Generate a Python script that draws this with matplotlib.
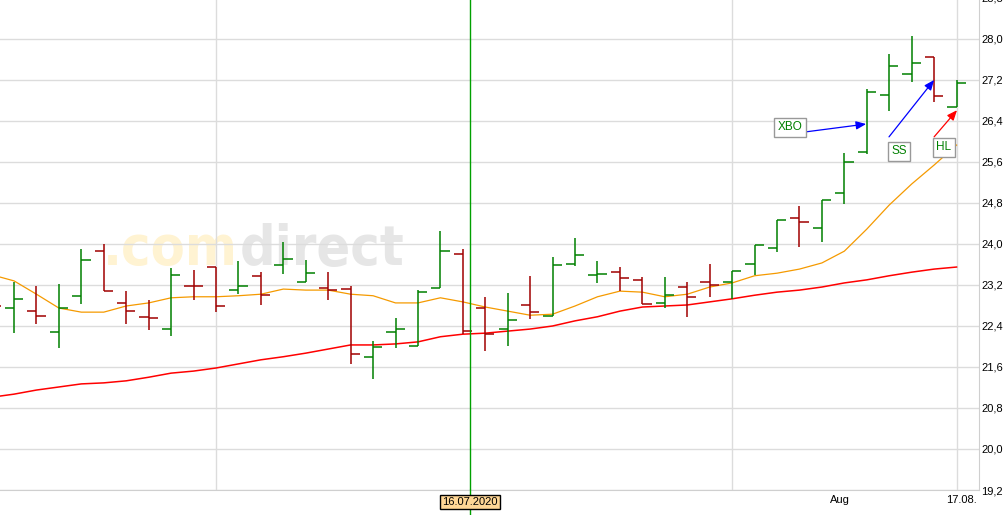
import numpy as np
import pandas as pd
import matplotlib.pyplot as plt
import matplotlib.transforms as mtransforms

# %%
# daily bars, 17.06.2020 - 17.08.2020 (trading days)
dates = pd.bdate_range("2020-06-17", "2020-08-17")

opens = [22.95, 22.75, 22.69, 22.28, 22.99, 23.86, 22.85, 22.58, 22.34, 23.18,
         23.55, 23.10, 23.38, 23.59, 23.26, 23.14, 23.12, 21.80, 22.28, 22.01,
         23.14, 23.80, 22.75, 22.34, 22.81, 22.60, 23.61, 23.40, 23.45, 23.30,
         22.85, 23.16, 23.26, 23.26, 23.61, 23.92, 24.51, 24.31, 24.99, 25.80,
         26.91, 27.32, 27.65, 26.67]
highs = [23.05, 23.26, 23.18, 23.22, 23.90, 24.00, 23.08, 22.91, 23.53, 23.49,
         23.55, 23.67, 23.45, 24.04, 23.69, 23.45, 23.18, 22.11, 22.56, 23.10,
         24.25, 23.90, 22.97, 23.04, 23.38, 23.75, 24.12, 23.67, 23.55, 23.36,
         23.36, 23.26, 23.61, 23.47, 23.98, 24.47, 24.74, 24.86, 25.78, 27.02,
         27.71, 28.06, 27.65, 27.20]
lows = [22.55, 22.26, 22.44, 21.97, 22.83, 23.08, 22.44, 22.32, 22.20, 22.91,
        22.67, 23.02, 22.81, 23.41, 23.26, 22.91, 21.66, 21.37, 21.97, 22.01,
        23.14, 22.24, 21.91, 22.01, 22.54, 22.60, 23.57, 23.24, 23.08, 22.83,
        22.75, 22.58, 22.97, 22.93, 23.40, 23.84, 23.94, 24.04, 24.78, 25.76,
        26.60, 27.16, 26.77, 26.67]
closes = [22.79, 22.93, 22.60, 22.75, 23.69, 23.08, 22.69, 22.56, 23.40, 23.18,
          22.79, 23.18, 23.00, 23.71, 23.43, 23.10, 21.85, 21.99, 22.34, 23.06,
          23.86, 22.30, 22.24, 22.52, 22.67, 23.59, 23.79, 23.41, 23.34, 22.83,
          23.00, 22.97, 23.20, 23.47, 23.98, 24.47, 24.43, 24.86, 25.60, 26.97,
          27.47, 27.53, 26.89, 27.14]

# moving averages (orange = short, red = long)
ma_short = [23.40, 23.28, 23.02, 22.75, 22.67, 22.67, 22.79, 22.85, 22.95, 22.97,
            22.97, 22.99, 23.02, 23.12, 23.10, 23.10, 23.02, 22.99, 22.85, 22.85,
            22.95, 22.87, 22.77, 22.69, 22.61, 22.63, 22.79, 22.97, 23.08, 23.06,
            22.97, 23.02, 23.16, 23.24, 23.38, 23.43, 23.51, 23.63, 23.86, 24.29,
            24.76, 25.17, 25.54, 25.93]
ma_long = [21.01, 21.07, 21.15, 21.21, 21.27, 21.29, 21.33, 21.40, 21.48, 21.52,
           21.58, 21.66, 21.74, 21.80, 21.87, 21.95, 22.03, 22.03, 22.05, 22.09,
           22.19, 22.24, 22.26, 22.30, 22.34, 22.40, 22.50, 22.58, 22.69, 22.77,
           22.79, 22.81, 22.87, 22.93, 23.00, 23.06, 23.10, 23.16, 23.24, 23.30,
           23.38, 23.45, 23.51, 23.55]

y_ticks = [19.2, 20.0, 20.8, 21.6, 22.4, 23.2, 24.0, 24.8, 25.6, 26.4, 27.2, 28.0, 28.8]
y_labels = ["19,2", "20,0", "20,8", "21,6", "22,4", "23,2", "24,0", "24,8",
            "25,6", "26,4", "27,2", "28,0", "28,8"]

# signal labels: text, box position, arrow start, arrow end, colour
signals = [
    ("XBO", (35.58, 26.28), (35.98, 26.17), (38.97, 26.34), "blue"),
    ("SS", (40.44, 25.81), (39.99, 26.09), (42.00, 27.20), "blue"),
    ("HL", (42.44, 25.89), (42.00, 26.09), (43.02, 26.61), "red"),
]

# %%
plt.rcParams["font.family"] = ["Liberation Sans", "DejaVu Sans"]

fig = plt.figure(figsize=(10.06, 5.15), dpi=100)
ax = fig.add_axes([0, 25 / 515, 979 / 1006, 490 / 515])

x = np.arange(len(dates))
tick = 0.41
GREEN = "#008000"
DRED = "#a00000"

grid_c = "#dcdcdc"
for t in y_ticks:
    ax.axhline(t, color=grid_c, lw=1, zorder=0.5)
for i in [10, 33, 43]:
    ax.axvline(i, color=grid_c, lw=1, zorder=0.5)

# watermark, behind the grid
ax.text(238 / 1006, 1 - 265 / 515, ".com", fontsize=40, fontweight="bold",
        family="DejaVu Sans", fontstretch="condensed", color="#fff3d2",
        ha="right", va="baseline", transform=fig.transFigure, zorder=0.3)
ax.text(240 / 1006, 1 - 265 / 515, "direct", fontsize=40, fontweight="bold",
        family="DejaVu Sans", fontstretch="condensed", color="#e6e6e6",
        ha="left", va="baseline", transform=fig.transFigure, zorder=0.3)

# moving averages
ax.plot(x, ma_long, color="#ff0000", lw=1.1, zorder=2)
ax.plot(x, ma_short, color="#f59a00", lw=0.9, zorder=2)

# OHLC bars
o = np.array(opens)
c = np.array(closes)
cols = [GREEN if cc > oo else DRED for oo, cc in zip(o, c)]
ax.vlines(x, lows, highs, colors=cols, lw=1.1, zorder=3)
ax.hlines(o, x - tick, x, colors=cols, lw=1.1, zorder=3)
ax.hlines(c, x, x + tick, colors=cols, lw=1.1, zorder=3)

# crosshair at 16.07.2020
cross = 21.32
ax.axvline(cross, color="#00a000", lw=1, zorder=4)
ax.text(cross, -12 / 51.25 + 19.2, dates[21].strftime("%d.%m.%Y"), fontsize=8,
        ha="center", va="center", clip_on=False, zorder=6,
        bbox=dict(boxstyle="square,pad=0.2", fc="#ffd796", ec="black", lw=1))
ax.plot([cross, cross], [19.2, 19.2 - 25 / 51.25], color="#00a000", lw=1,
        clip_on=False, zorder=4)

# signal boxes and arrows
for txt, pos, start, end, col in signals:
    ax.annotate("", xy=end, xytext=start, zorder=5,
                arrowprops=dict(arrowstyle="-|>,head_length=0.6,head_width=0.25",
                                color=col, lw=0.9, shrinkA=0, shrinkB=0))
    ax.text(pos[0], pos[1], txt, color=GREEN, fontsize=8.5, ha="center", va="center",
            zorder=6, bbox=dict(boxstyle="square,pad=0.3", fc="white", ec="#999999", lw=1))

ax.set_xlim(0.376, 44.0)
ax.set_ylim(19.2, 28.76)
ax.set_xticks([])
ax.set_yticks([])
for s in ["top", "left"]:
    ax.spines[s].set_visible(False)
ax.spines["right"].set_color("#cfcfcf")
ax.spines["bottom"].set_color("#cfcfcf")

# price labels on the right
tr = mtransforms.blended_transform_factory(fig.transFigure, ax.transData)
for t, lab in zip(y_ticks, y_labels):
    ax.text(981 / 1006, t - 1 / 51.25, lab, transform=tr, fontsize=8,
            ha="left", va="center", clip_on=False)

# date labels
ax.text(37.8, 19.2 - 10 / 51.25, "Aug", fontsize=8, ha="center", va="center", clip_on=False)
ax.text(43.2, 19.2 - 10 / 51.25, dates[-1].strftime("%d.%m."), fontsize=8,
        ha="center", va="center", clip_on=False)

fig.savefig("out.png", dpi=100)
